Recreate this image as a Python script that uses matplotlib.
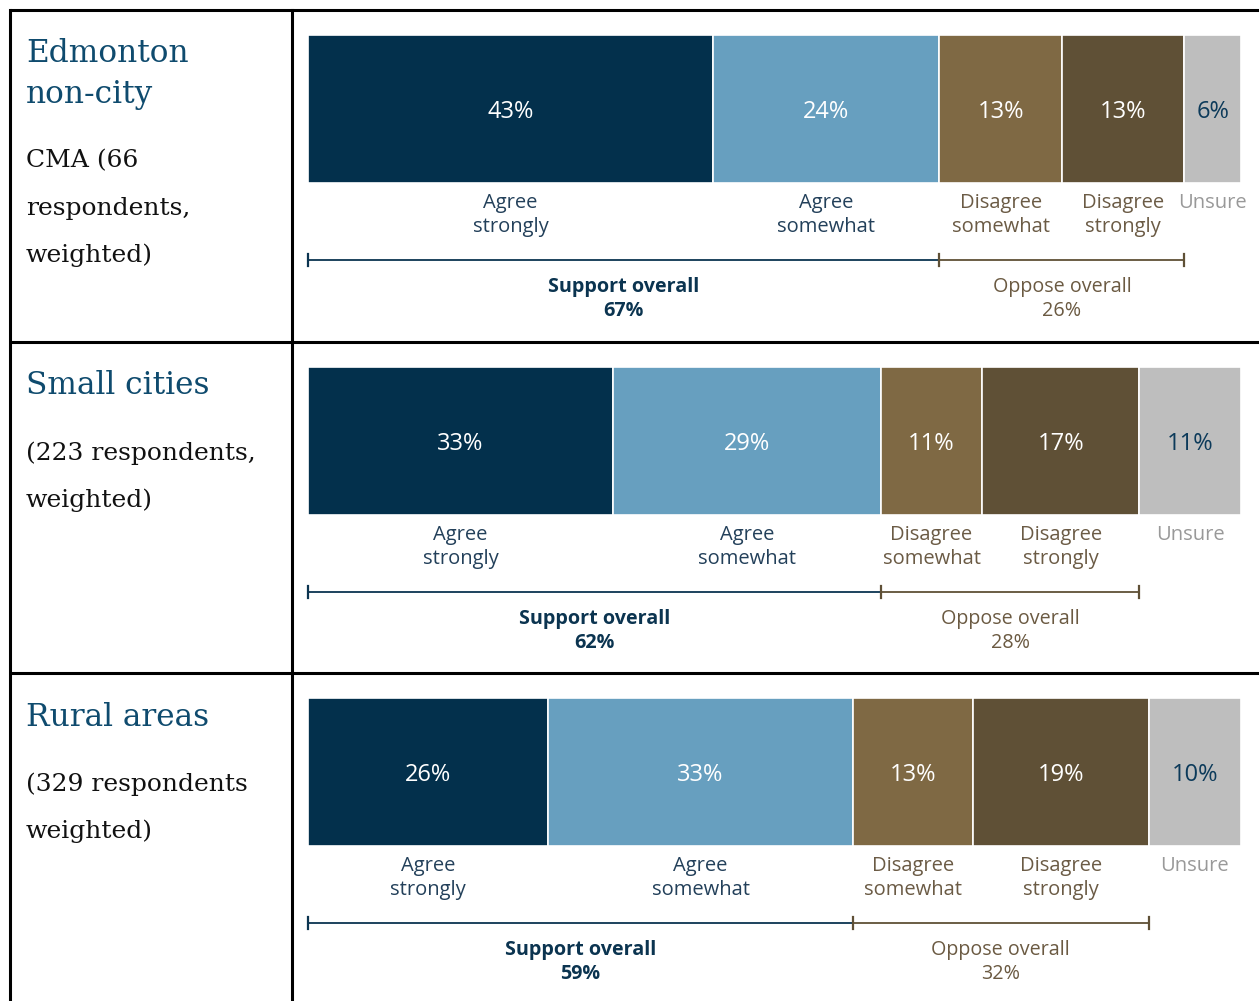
import matplotlib
matplotlib.use("Agg")
import matplotlib.pyplot as plt

# survey results, one row per area
categories = ["Agree\nstrongly", "Agree\nsomewhat", "Disagree\nsomewhat", "Disagree\nstrongly", "Unsure"]
titles = [["Edmonton", "non-city"], ["Small cities"], ["Rural areas"]]
subtitles = [["CMA (66", "respondents,", "weighted)"],
             ["(223 respondents,", "weighted)"],
             ["(329 respondents", "weighted)"]]
edmonton = [43, 24, 13, 13, 6]
small_cities = [33, 29, 11, 17, 11]
rural = [26, 33, 13, 19, 10]
support = [67, 62, 59]
oppose = [26, 28, 32]
rows = [edmonton, small_cities, rural]

bar_colors = ["#03304c", "#679fbf", "#7f6944", "#5f5036", "#bebebe"]
value_colors = ["white", "white", "white", "white", "#0c3a5a"]
label_colors = ["#23405a", "#23405a", "#6b5b45", "#6b5b45", "#999999"]
serif = "DejaVu Serif"
sans = "Open Sans"

W, H = 1259, 1001
fig = plt.figure(figsize=(W / 100, H / 100), dpi=100)

# background axes in pixel coordinates for the table grid and left column
bg = fig.add_axes([0, 0, 1, 1])
bg.set_xlim(0, W)
bg.set_ylim(H, 0)
bg.axis("off")
row_tops = [10, 342, 673]
row_h = 331
for y in row_tops:
    bg.plot([10, W], [y, y], color="black", lw=2.2, solid_capstyle="butt")
bg.plot([10, 10], [10, H], color="black", lw=2.2)
bg.plot([292, 292], [10, H], color="black", lw=2.2)

for i, top in enumerate(row_tops):
    y = top + 44
    for line in titles[i]:
        bg.text(26, y, line, family=serif, fontsize=22.5, color="#0f4b6e", va="center", ha="left")
        y += 40
    y += 27
    for line in subtitles[i]:
        bg.text(26, y, line, family=serif, fontsize=18, color="#111111", va="center", ha="left")
        y += 47

x0, x1 = 308, 1241
for i, (top, vals) in enumerate(zip(row_tops, rows)):
    ax = fig.add_axes([x0 / W, 1 - (top + row_h) / H, (x1 - x0) / W, row_h / H])
    total = sum(vals)
    ax.set_xlim(0, total)
    ax.set_ylim(row_h, 0)
    ax.axis("off")
    left = 0
    for j, v in enumerate(vals):
        ax.barh(99, v, left=left, height=148, color=bar_colors[j], edgecolor="white", linewidth=1.2)
        c = left + v / 2
        ax.text(c, 102, "{0}%".format(v), family=sans, fontsize=17, color=value_colors[j],
                ha="center", va="center")
        ax.text(c, 183, categories[j], family=sans, fontsize=14.5, color=label_colors[j],
                ha="center", va="top", linespacing=1.25)
        left += v
    s_end = vals[0] + vals[1]
    o_end = s_end + vals[2] + vals[3]
    ax.plot([0, s_end], [250, 250], color="#0b3450", lw=1.3, clip_on=False)
    ax.plot([s_end, o_end], [250, 250], color="#5f5036", lw=1.3, clip_on=False)
    for xv, col in [(0, "#0b3450"), (s_end, "#5f5036"), (o_end, "#5f5036")]:
        ax.plot([xv, xv], [244, 256], color=col, lw=1.6, clip_on=False)
    ax.text(s_end / 2, 289, "Support overall\n{0}%".format(support[i]), family=sans, fontsize=14.2,
            fontweight="bold", color="#0b3450", ha="center", va="center", linespacing=1.3)
    ax.text((s_end + o_end) / 2, 289, "Oppose overall\n{0}%".format(oppose[i]), family=sans,
            fontsize=14.2, color="#6b5a42", ha="center", va="center", linespacing=1.3)

fig.savefig("out.png", dpi=100)
